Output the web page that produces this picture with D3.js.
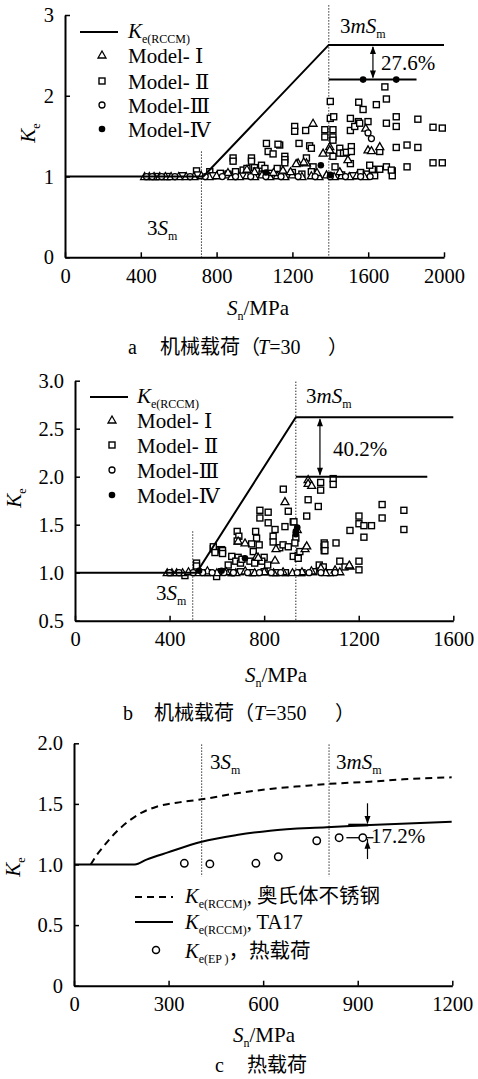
<!DOCTYPE html>
<html><head><meta charset="utf-8">
<script src="https://cdn.jsdelivr.net/npm/d3@7"></script>
<style>
body{margin:0;background:#fff}
svg{display:block}
text{font-family:"Liberation Serif","Times New Roman","DejaVu Serif",serif;fill:#000}
</style>
</head><body>
<svg id="chart" width="478" height="1079"></svg>
<script>
// ---------------- DATA ----------------
// Panel a : mechanical load, T=30
const aXTicks = [0, 400, 800, 1200, 1600, 2000];
const aYTicks = [0, 1, 2, 3];
const aKeRccm = [[0, 1], [730, 1], [1392, 2.63], [2000, 2.63]];
const aLower = [[1392, 2.2], [1855, 2.2]];
const a3Sm = 720, a3mSm = 1392;
const aModel1 = [[420,1.0],[445,1.0],[470,1.0],[500,1.0],[530,1.0],[560,1.0],[600,1.0],[640,1.0],[680,1.0],[720,1.01],[760,1.0],[800,1.01],[850,1.02],[880,1.0],[920,1.0],[960,1.01],[1000,1.0],[1040,1.02],[1080,1.0],[1120,1.01],[1160,1.0],[1200,1.02],[1250,1.0],[1300,1.01],[1340,1.0],[1380,1.02],[1420,1.0],[1460,1.01],[1500,1.0],[1540,1.01],[1580,1.0],
  [1309,1.66],[1587,1.60],[1362,1.29],[1397,1.37],[1397,1.33],[1493,1.21],[1599,1.33],[1617,1.32],[1661,1.37],[1230,1.17],[1274,1.17],[1150,1.08],[1190,1.06],[1220,1.16],[1260,1.18],[1100,1.05],[1000,1.06],[960,1.09],[860,1.05],[1330,1.05],[1450,1.06]];
const aModel2 = [[1688,2.11],[1400,1.93],[1550,1.92],[1643,1.89],[1696,1.96],[1573,1.83],[1400,1.72],[1418,1.74],[1506,1.72],[1548,1.68],[1599,1.68],[1696,1.66],[1748,1.74],[1748,1.62],[1862,1.71],[1942,1.61],[1991,1.60],[1212,1.62],[1212,1.56],[1270,1.57],[1371,1.58],[1414,1.58],[1371,1.49],[1414,1.49],[1414,1.45],[1506,1.57],[1529,1.62],[1555,1.66],[1235,1.41],[1291,1.38],[1300,1.35],[1414,1.25],[1450,1.35],[1450,1.29],[1470,1.29],[1485,1.30],[1511,1.37],[1511,1.31],[1506,1.16],[1661,1.31],[1748,1.36],[1805,1.39],[1862,1.36],[1942,1.17],[1991,1.17],[1805,1.12],[1425,1.12],[1622,1.09],[1661,1.09],[1727,1.07],[1727,1.01],[1634,1.01],[1160,1.25],[1160,1.21],[1160,1.17],[1274,1.23],[1309,1.12],[1133,1.39],[1063,1.41],[1124,1.40],[1072,1.31],[1098,1.28],[887,1.23],[887,1.19],[984,1.23],[984,1.19],[694,1.07],[764,1.06],[940,1.08],[960,1.10],[1000,1.11],[1010,1.07],[1037,1.14],[1055,1.10],[1120,1.10],[1608,1.14],[1696,1.12],[1722,1.08],[1560,1.05],[1590,1.03],[820,1.04],[860,1.03],[900,1.06],[1040,1.03],[1080,1.04],[1200,1.05],[1250,1.03],[1300,1.06],[480,1.0],[540,1.0],[620,1.01],[700,1.02],[780,1.01],[1460,1.02],[1520,1.01]];
const aModel3 = [[1599,1.54],[1617,1.47],[430,1.0],[460,1.0],[510,1.0],[580,1.0],[660,1.0],[740,1.0],[830,1.0],[900,1.0],[980,1.0],[1060,1.0],[1140,1.0],[1230,1.0],[1320,1.0],[1400,1.0],[1480,1.0],[1560,1.0],[1610,1.0]];
const aModel4 = [[1573,2.2],[1748,2.2],[1350,1.14],[1060,1.05],[1400,1.02]];

// Panel b : mechanical load, T=350
const bXTicks = [0, 400, 800, 1200, 1600];
const bYTicks = [0.5, 1.0, 1.5, 2.0, 2.5, 3.0];
const bKeRccm = [[0, 1], [514, 1], [934, 2.62], [1600, 2.62]];
const bLower = [[934, 2.0], [1490, 2.0]];
const b3Sm = 498, b3mSm = 934;
const bModel1 = [[888,1.74],[986,1.97],[986,1.93],[1001,1.91],[940,1.45],[690,1.33],[719,1.31],[768,1.17],[775,1.16],[846,1.13],[850,1.25],[973,1.25],[980,1.28],[1163,1.07],[1160,1.08],[1100,1.03],[1040,1.05],
  [390,1.0],[410,1.0],[430,1.0],[455,1.0],[480,1.01],[520,1.0],[560,1.02],[600,1.0],[640,1.01],[680,1.0],[720,1.02],[760,1.0],[800,1.01],[840,1.0],[880,1.01],[920,1.0],[960,1.01],[1000,1.02],[1060,1.0],[1120,1.01]];
const bModel2 = [[881,1.87],[902,1.64],[782,1.65],[817,1.63],[782,1.57],[817,1.52],[923,1.53],[888,1.48],[846,1.45],[838,1.38],[838,1.32],[686,1.43],[693,1.38],[764,1.43],[768,1.36],[747,1.30],[779,1.29],[866,1.26],[880,1.29],[902,1.27],[585,1.25],[592,1.24],[620,1.24],[754,1.22],[800,1.16],[663,1.17],[690,1.16],[648,1.08],[923,1.17],[1039,1.94],[1039,1.86],[1092,1.98],[1092,1.92],[986,1.76],[1029,1.69],[980,1.59],[926,1.53],[934,1.36],[930,1.31],[944,1.18],[944,1.15],[1054,1.31],[1054,1.27],[1054,1.23],[1104,1.31],[1120,1.12],[1163,1.44],[1201,1.59],[1201,1.51],[1222,1.49],[1254,1.49],[1222,1.37],[1299,1.71],[1299,1.57],[1391,1.65],[1391,1.45],[1201,1.12],[1201,1.03],[1142,1.06],[686,1.33],[585,1.27],[592,1.21],[624,1.23],[624,1.20],[680,1.12],[700,1.10],[706,1.14],[740,1.12],[760,1.10],[790,1.12],[815,1.08],[951,1.22],[1057,1.29],[1057,1.23],[1033,1.08],[1050,1.06],[514,1.10],[514,1.07],[465,0.97],[599,0.96],[560,1.0],[620,1.01],[660,1.0],[700,1.01],[750,1.0],[800,1.01],[850,1.0],[890,1.0],[960,1.0],[1010,1.01],[1080,1.0]];
const bModel3 = [[400,1.0],[440,1.0],[500,1.0],[540,1.0],[580,1.0],[630,1.0],[670,1.0],[730,1.0],[780,1.0],[830,1.0],[870,1.0],[940,1.0],[990,1.0],[1040,1.0],[1100,1.0]];
const bModel4 = [[719,1.15],[934,1.43],[940,1.47],[934,1.40],[620,1.02],[525,1.02]];

// Panel c : thermal load
const cXTicks = [0, 300, 600, 900, 1200];
const cYTicks = [0, 0.5, 1.0, 1.5, 2.0];
const cAustenitic = [[53,1.0],[72,1.078],[93,1.147],[120,1.23],[146,1.298],[178,1.367],[215,1.428],[262,1.477],[326,1.51],[405,1.538],[516,1.587],[622,1.623],[727,1.648],[801,1.664],[939,1.683],[1045,1.703],[1198,1.719]];
const cTA17 = [[0,1.0],[193,1.0],[230,1.04],[298,1.10],[405,1.188],[516,1.243],[622,1.279],[801,1.307],[939,1.326],[1198,1.353]];
const cKeEP = [[350,1.01],[431,1.005],[577,1.01],[648,1.064],[770,1.196],[841,1.221],[916,1.221]];
const c3Sm = 405, c3mSm = 809;

// ---------------- DRAWING ----------------
const svg = d3.select("#chart");
const SERIF = '"Liberation Serif","Times New Roman","DejaVu Serif",serif';
const CJK = '"Noto Sans CJK SC","Noto Sans CJK JP",sans-serif';
const SUBDY = 4.5;

function rich(sel, x, y, parts, size) {
  const t = sel.append("text").attr("x", x).attr("y", y).attr("font-size", size || 21)
    .attr("font-family", SERIF);
  let shift = 0;
  parts.forEach(p => {
    const s = t.append("tspan").text(p.t);
    const want = p.sub ? SUBDY : 0;
    if (want !== shift) { s.attr("dy", want - shift); shift = want; }
    if (p.sub) s.attr("font-size", 12);
    if (p.it) s.attr("font-style", "italic");
    if (p.cjk) s.attr("font-family", CJK);
  });
  return t;
}

function marker(g, type, x, y) {
  if (type === "sq") {
    g.append("rect").attr("x", x - 3).attr("y", y - 3).attr("width", 6).attr("height", 6)
      .attr("fill", "#fff").attr("stroke", "#000").attr("stroke-width", 1.4);
  } else if (type === "tri") {
    g.append("path").attr("d", `M${x},${y-4}L${x+4},${y+3}L${x-4},${y+3}Z`)
      .attr("fill", "#fff").attr("stroke", "#000").attr("stroke-width", 1.3);
  } else if (type === "circ") {
    g.append("circle").attr("cx", x).attr("cy", y).attr("r", 3)
      .attr("fill", "#fff").attr("stroke", "#000").attr("stroke-width", 1.3);
  } else if (type === "dot") {
    g.append("circle").attr("cx", x).attr("cy", y).attr("r", 3.3).attr("fill", "#000");
  }
}

function axes(x, y, xt, yt, yfmt) {
  const gx = svg.append("g").attr("transform", `translate(0,${y.range()[0]})`)
    .call(d3.axisBottom(x).tickValues(xt).tickSizeInner(-5).tickSizeOuter(0).tickPadding(11).tickFormat(d3.format("d")));
  const gy = svg.append("g").attr("transform", `translate(${x.range()[0]},0)`)
    .call(d3.axisLeft(y).tickValues(yt).tickSizeInner(-5).tickSizeOuter(0).tickPadding(11).tickFormat(yfmt));
  [gx, gy].forEach(a => {
    a.attr("font-family", SERIF).attr("font-size", 20.5);
    a.select(".domain").attr("stroke-width", 2);
    a.selectAll(".tick line").attr("stroke-width", 1.5);
    a.selectAll(".tick text").attr("fill", "#000");
  });
}

function vdotted(x, y, xv, y0, y1) {
  svg.append("line").attr("x1", x(xv)).attr("x2", x(xv)).attr("y1", y(y0)).attr("y2", y(y1))
    .attr("stroke", "#000").attr("stroke-width", 1).attr("stroke-dasharray", "1.2,1.8");
}

function poly(x, y, pts, w, dash, curve) {
  const ln = d3.line().x(d => x(d[0])).y(d => y(d[1]));
  if (curve) ln.curve(curve);
  const p = svg.append("path").attr("d", ln(pts)).attr("fill", "none").attr("stroke", "#000")
    .attr("stroke-width", w);
  if (dash) p.attr("stroke-dasharray", dash);
}

function arrowHead(px, py, dir) { // dir: 1 pointing down, -1 pointing up
  svg.append("path").attr("d", `M${px},${py}L${px-3},${py - dir*8}L${px+3},${py - dir*8}Z`).attr("fill", "#000");
}

function dblArrow(x, y, xv, ya, yb) {
  const px = x(xv), p1 = y(ya), p2 = y(yb);
  svg.append("line").attr("x1", px).attr("x2", px).attr("y1", p1 + 2).attr("y2", p2 - 2)
    .attr("stroke", "#000").attr("stroke-width", 1.2);
  arrowHead(px, p1 + 1, -1);
  arrowHead(px, p2 - 1, 1);
}

function scatter(x, y, data, type) {
  const g = svg.append("g");
  data.forEach(d => marker(g, type, x(d[0]), y(d[1])));
}

function keLabel(cx, cy) {
  const t = svg.append("text").attr("transform", `translate(${cx},${cy}) rotate(-90)`)
    .attr("text-anchor", "middle").attr("font-size", 21).attr("font-family", SERIF);
  t.append("tspan").attr("font-style", "italic").text("K");
  t.append("tspan").attr("font-size", 12).attr("dy", 5).text("e");
}

function snLabel(xs, ys) {
  rich(svg, xs, ys, [{t: "S", it: true}, {t: "n", sub: true}, {t: "/MPa"}], 21);
}

function legendModels(x0, lineY, textX, rows) {
  svg.append("line").attr("x1", x0).attr("x2", x0 + 38).attr("y1", lineY).attr("y2", lineY)
    .attr("stroke", "#000").attr("stroke-width", 2);
  rich(svg, textX, lineY + 6, [{t: "K", it: true}, {t: "e(RCCM)", sub: true}], 21);
  const g = svg.append("g");
  const names = ["Model- \u2160", "Model- \u2161", "Model-\u2162", "Model-\u2163"];
  const types = ["tri", "sq", "circ", "dot"];
  rows.forEach((ry, i) => {
    marker(g, types[i], x0 + 22, ry);
    rich(svg, textX, ry + 8, [{t: names[i]}], 21);
  });
}

// ---- Panel a ----
{
  const x = d3.scaleLinear().domain([0, 2000]).range([65, 444]);
  const y = d3.scaleLinear().domain([0, 3]).range([257.3, 15]);
  vdotted(x, y, a3Sm, 1.31, 0);
  vdotted(x, y, a3mSm, 3.12, 0);
  scatter(x, y, aModel2, "sq");
  scatter(x, y, aModel1, "tri");
  scatter(x, y, aModel3, "circ");
  poly(x, y, aKeRccm, 2);
  poly(x, y, aLower, 2);
  scatter(x, y, aModel4, "dot");
  dblArrow(x, y, 1625, 2.63, 2.2);
  axes(x, y, aXTicks, aYTicks, d3.format("d"));
  legendModels(80, 32, 128, [55, 81, 105, 129]);
  rich(svg, 340, 33, [{t: "3"}, {t: "mS", it: true}, {t: "m", sub: true}]);
  rich(svg, 381, 70, [{t: "27.6%"}]);
  rich(svg, 147, 235, [{t: "3"}, {t: "S", it: true}, {t: "m", sub: true}]);
  keLabel(35, 133);
  snLabel(227, 315);
  rich(svg, 128, 354, [{t: "a"}], 20);
  rich(svg, 160, 354, [{t: "机械载荷（", cjk: true}], 20);
  rich(svg, 258, 354, [{t: "T", it: true}, {t: "=30"}], 20);
  rich(svg, 328, 354, [{t: "）", cjk: true}], 20);
}

// ---- Panel b ----
{
  const x = d3.scaleLinear().domain([0, 1600]).range([75, 453.3]);
  const y = d3.scaleLinear().domain([0.5, 3.0]).range([620.7, 380.7]);
  vdotted(x, y, b3Sm, 1.43, 0.5);
  vdotted(x, y, b3mSm, 2.99, 0.5);
  scatter(x, y, bModel2, "sq");
  scatter(x, y, bModel1, "tri");
  scatter(x, y, bModel3, "circ");
  poly(x, y, bKeRccm, 2);
  poly(x, y, bLower, 2);
  scatter(x, y, bModel4, "dot");
  dblArrow(x, y, 1036, 2.62, 2.0);
  axes(x, y, bXTicks, bYTicks, d3.format(".1f"));
  legendModels(90, 397, 137, [420, 445, 470, 495]);
  rich(svg, 306, 403, [{t: "3"}, {t: "mS", it: true}, {t: "m", sub: true}]);
  rich(svg, 333, 456, [{t: "40.2%"}]);
  rich(svg, 156, 600, [{t: "3"}, {t: "S", it: true}, {t: "m", sub: true}]);
  keLabel(21, 498);
  snLabel(245, 682);
  rich(svg, 123, 720, [{t: "b"}], 20);
  rich(svg, 154, 720, [{t: "机械载荷（", cjk: true}], 20);
  rich(svg, 254, 720, [{t: "T", it: true}, {t: "=350"}], 20);
  rich(svg, 335, 720, [{t: "）", cjk: true}], 20);
}

// ---- Panel c ----
{
  const x = d3.scaleLinear().domain([0, 1200]).range([74, 452.3]);
  const y = d3.scaleLinear().domain([0, 2]).range([985.7, 743.3]);
  vdotted(x, y, c3Sm, 1.99, 0.9);
  vdotted(x, y, c3mSm, 1.99, 0.9);
  poly(x, y, cAustenitic, 2, "7,5", d3.curveMonotoneX);
  poly(x, y, cTA17, 2, null, d3.curveMonotoneX);
  // level marks near the gap annotation
  poly(x, y, [[870, 1.326], [933, 1.326]], 2.6);
  poly(x, y, [[864, 1.221], [950, 1.221]], 1.3);
  const g = svg.append("g");
  cKeEP.forEach(d => {
    g.append("circle").attr("cx", x(d[0])).attr("cy", y(d[1])).attr("r", 3.7)
      .attr("fill", "#fff").attr("stroke", "#000").attr("stroke-width", 1.5);
  });
  // 17.2% arrows
  const ax = x(931);
  svg.append("line").attr("x1", ax).attr("x2", ax).attr("y1", y(1.505)).attr("y2", y(1.34))
    .attr("stroke", "#000").attr("stroke-width", 1.2);
  arrowHead(ax, y(1.326) - 1, 1);
  svg.append("line").attr("x1", ax).attr("x2", ax).attr("y1", y(1.045)).attr("y2", y(1.21))
    .attr("stroke", "#000").attr("stroke-width", 1.2);
  arrowHead(ax, y(1.221) + 3, -1);
  axes(x, y, cXTicks, cYTicks, d => d === 0 ? "0" : d3.format(".1f")(d));
  rich(svg, 210, 769, [{t: "3"}, {t: "S", it: true}, {t: "m", sub: true}]);
  rich(svg, 336, 769, [{t: "3"}, {t: "mS", it: true}, {t: "m", sub: true}]);
  rich(svg, 371, 843, [{t: "17.2%"}]);
  // legend
  svg.append("line").attr("x1", 135).attr("x2", 173).attr("y1", 897).attr("y2", 897)
    .attr("stroke", "#000").attr("stroke-width", 2).attr("stroke-dasharray", "7,5");
  rich(svg, 185, 903, [{t: "K", it: true}, {t: "e(RCCM)", sub: true}, {t: ", "}, {t: "奥氏体不锈钢", cjk: true}], 20.5);
  svg.append("line").attr("x1", 135).attr("x2", 173).attr("y1", 922).attr("y2", 922)
    .attr("stroke", "#000").attr("stroke-width", 2);
  rich(svg, 185, 929, [{t: "K", it: true}, {t: "e(RCCM)", sub: true}, {t: ", TA17"}], 20.5);
  svg.append("circle").attr("cx", 156).attr("cy", 950).attr("r", 3.5)
    .attr("fill", "#fff").attr("stroke", "#000").attr("stroke-width", 1.5);
  rich(svg, 185, 958, [{t: "K", it: true}, {t: "e(EP )", sub: true}, {t: "，热载荷", cjk: true}], 20.5);
  keLabel(20, 867);
  snLabel(233, 1042);
  rich(svg, 215, 1072, [{t: "c"}], 20);
  rich(svg, 247, 1072, [{t: "热载荷", cjk: true}], 20);
}
</script>
</body></html>
